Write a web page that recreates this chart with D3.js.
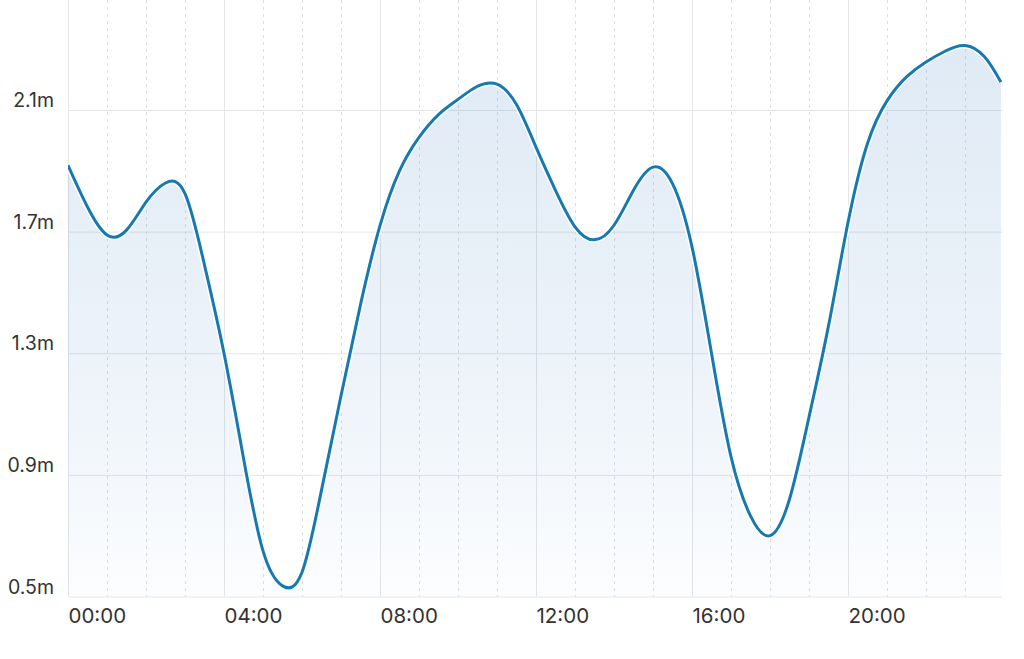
<!DOCTYPE html>
<html>
<head>
<meta charset="utf-8">
<script src="https://cdn.jsdelivr.net/npm/d3@7"></script>
<style>
  body { margin: 0; background: #fff; }
  svg { display: block; }
  text { font-family: Inter, "Noto Sans", sans-serif; fill: #333; }
</style>
</head>
<body>
<div id="chart"><svg></svg></div>
<script>
// tide heights, every half hour (hours since midnight, metres)
const hours   = [0, 0.5, 1, 1.5, 2, 2.5, 3, 3.5, 4, 4.5, 5, 5.5, 6, 6.5, 7, 7.5, 8, 8.5, 9, 9.5, 10, 10.5, 11, 11.5, 12, 12.5, 13, 13.5, 14, 14.5, 15, 15.5, 16, 16.5, 17, 17.5, 18, 18.5, 19, 19.5, 20, 20.5, 21, 21.5, 22, 22.5, 23, 23.5, 23.92];
const heights = [1.918, 1.781, 1.689, 1.705, 1.797, 1.860, 1.825, 1.59, 1.30, 0.955, 0.65, 0.535, 0.58, 0.85, 1.16, 1.46, 1.72, 1.90, 2.01, 2.085, 2.135, 2.178, 2.185, 2.118, 1.978, 1.836, 1.716, 1.673, 1.721, 1.836, 1.912, 1.858, 1.65, 1.30, 0.96, 0.765, 0.70, 0.82, 1.09, 1.39, 1.73, 1.99, 2.13, 2.209, 2.258, 2.294, 2.312, 2.275, 2.192];

const yTicks = [0.5, 0.9, 1.3, 1.7, 2.1];
const xLabels = ['00:00', '04:00', '08:00', '12:00', '16:00', '20:00'];

const width = 1024;
const height = 659;
const left = 68, right = 1002, bottom = 596.5;

const svg = d3.select('#chart').select('svg')
    .attr('width', width)
    .attr('height', height);

const x = d3.scaleLinear().domain([0, 24]).range([left, 1004]);
const y = d3.scaleLinear().domain([0.5, 2.1]).range([bottom, 110]);

const points = hours.map((h, i) => ({ h: h, v: heights[i] }));

// gradient for the area
const defs = svg.append('defs');
const grad = defs.append('linearGradient')
    .attr('id', 'tide-fill')
    .attr('gradientUnits', 'userSpaceOnUse')
    .attr('x1', 0).attr('x2', 0)
    .attr('y1', 40).attr('y2', bottom);
grad.selectAll('stop')
  .data([
      {offset: '0%', op: 0.15},
      {offset: '60%', op: 0.085},
      {offset: '100%', op: 0.015}
    ])
  .enter().append('stop')
  .attr('offset', d => d.offset)
  .attr('stop-color', '#2a73bd')
  .attr('stop-opacity', d => d.op);

defs.append('clipPath').attr('id', 'plot-clip')
  .append('rect')
    .attr('x', left).attr('y', 0)
    .attr('width', right - left).attr('height', bottom + 1);

// hourly dotted lines + 4-hourly solid lines
const hourTicks = x.ticks(24).filter(h => h < 24);
svg.append('g')
  .selectAll('line')
  .data(hourTicks)
  .join('line')
    .attr('x1', d => Math.round(x(d)) + 0.5)
    .attr('x2', d => Math.round(x(d)) + 0.5)
    .attr('y1', 0)
    .attr('y2', bottom)
    .attr('stroke', d => d % 4 === 0 ? '#e4e6e8' : '#dcdfe2')
    .attr('stroke-width', 1)
    .attr('stroke-dasharray', d => d % 4 === 0 ? null : '3,4');

// horizontal grid
const yGrid = d3.axisLeft(y)
    .tickValues(yTicks)
    .tickSize(-(right - left))
    .tickFormat('');
svg.append('g')
    .attr('transform', `translate(${left},0)`)
    .call(yGrid)
    .call(g => g.select('.domain').remove())
    .call(g => g.selectAll('.tick line').attr('stroke', '#e4e6e8'));

// area + line
const curve = d3.curveNatural;

const area = d3.area()
    .x(d => x(d.h))
    .y0(bottom)
    .y1(d => y(d.v))
    .curve(curve);

const line = d3.line()
    .x(d => x(d.h))
    .y(d => y(d.v))
    .curve(curve);

const plot = svg.append('g').attr('clip-path', 'url(#plot-clip)');

plot.append('path')
    .datum(points)
    .attr('d', area)
    .attr('fill', 'url(#tide-fill)');

plot.append('path')
    .datum(points)
    .attr('d', line)
    .attr('fill', 'none')
    .attr('stroke', '#fff')
    .attr('stroke-width', 6);

plot.append('path')
    .datum(points)
    .attr('d', line)
    .attr('fill', 'none')
    .attr('stroke', '#1679b0')
    .attr('stroke-width', 3)
    .attr('stroke-linejoin', 'round');

// y labels (sit just above their gridline, right aligned)
const yAxis = d3.axisLeft(y)
    .tickValues(yTicks)
    .tickSize(0)
    .tickPadding(0)
    .tickFormat(d => d + 'm');
svg.append('g')
    .attr('transform', 'translate(54,0)')
    .call(yAxis)
    .call(g => g.select('.domain').remove())
    .call(g => g.selectAll('.tick text')
        .attr('dy', -3.5)
        .attr('fill', '#2e2e2e')
        .style('font-size', '19.5px'));

// x labels (left aligned on their gridline)
const xAxis = d3.axisBottom(x)
    .tickValues([0, 4, 8, 12, 16, 20])
    .tickSize(0)
    .tickPadding(0)
    .tickFormat((d, i) => xLabels[i]);
svg.append('g')
    .attr('transform', 'translate(0,623)')
    .call(xAxis)
    .call(g => g.select('.domain').remove())
    .call(g => g.selectAll('.tick text')
        .attr('text-anchor', 'start')
        .attr('dy', 0)
        .attr('y', 0)
        .attr('fill', '#2e2e2e')
        .style('font-size', '20.5px'));
</script>
</body>
</html>
